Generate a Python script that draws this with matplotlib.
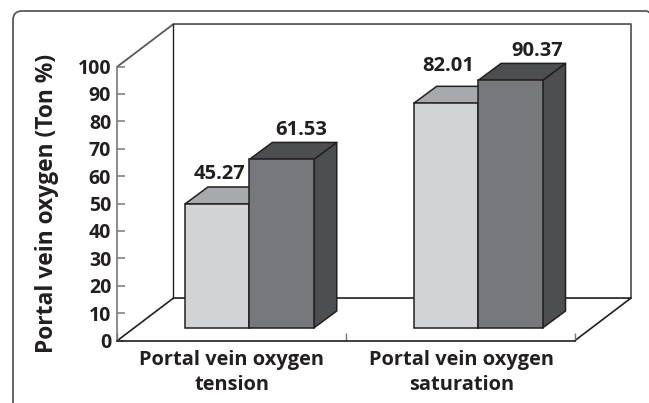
import matplotlib
matplotlib.use("Agg")
from matplotlib import pyplot as plt
from matplotlib.path import Path
from matplotlib.patches import PathPatch

plt.rcParams['font.family'] = ['Open Sans', 'DejaVu Sans']
plt.rcParams['font.weight'] = 'bold'

# Datos
categories = ["Portal vein oxygen\ntension", "Portal vein oxygen\nsaturation"]
light_values = [45.27, 82.01]
dark_values = [61.53, 90.37]
y_ticks = [0, 10, 20, 30, 40, 50, 60, 70, 80, 90, 100]
y_title = "Portal vein oxygen (Ton %)"

W, H = 649, 403
INK = "#231f20"
GREY = "#77787b"

fig = plt.figure(figsize=(W / 100, H / 100), dpi=100)

# Marco redondeado de la página
bg = fig.add_axes([0, 0, 1, 1])
bg.set_xlim(0, W)
bg.set_ylim(H, 0)
bg.axis('off')
frame = Path(
    [(13, 403), (13, 20), (13, 11), (22, 11), (645, 11), (649, 11), (649, 13)],
    [Path.MOVETO, Path.LINETO, Path.CURVE3, Path.CURVE3, Path.LINETO, Path.CURVE3, Path.CURVE3],
)
bg.add_patch(PathPatch(frame, fill=False, edgecolor="#58595b", linewidth=1.3))

# Ejes: el frente del piso va de x=117.5 a 575 px, y de 340.5 a 66.5 px
ax = fig.add_axes([117.5 / W, 1 - 340.5 / H, 457.5 / W, 274 / H])
ax.patch.set_alpha(0)
ax.set_xlim(0, 2)
ax.set_ylim(0, 100)

WALL_DX, WALL_DY = 0.2448, 15.5   # profundidad de la caja
BAR_DX, BAR_DY = 0.1005, 6.2      # profundidad de las barras
BAR_W = 0.2815
BASE = 4.56                       # las barras no arrancan en el borde del piso
GROUP_SHIFT = 0.0765


def linea(xs, ys, color=INK, lw=1.2):
    ax.plot(xs, ys, color=color, linewidth=lw, clip_on=False, zorder=1,
            solid_capstyle='projecting')


# Pared del fondo y piso
linea([0, WALL_DX, 2 + WALL_DX, 2 + WALL_DX],
      [100, 100 + WALL_DY, 100 + WALL_DY, WALL_DY], color="#58595b", lw=1.3)
linea([WALL_DX, WALL_DX], [100 + WALL_DY, WALL_DY], color=INK, lw=1.0)
linea([0, WALL_DX, 2 + WALL_DX, 2], [0, WALL_DY, WALL_DY, 0])


def barra(x, value, front, top, side):
    left, right = x, x + BAR_W
    y0, y1 = BASE, BASE + value
    kw = dict(edgecolor=INK, linewidth=1.1, clip_on=False, zorder=3, joinstyle='round')
    ax.fill([right, right + BAR_DX, right + BAR_DX, right],
            [y0, y0 + BAR_DY, y1 + BAR_DY, y1], facecolor=side, **kw)
    ax.fill([left, left + BAR_DX, right + BAR_DX, right],
            [y1, y1 + BAR_DY, y1 + BAR_DY, y1], facecolor=top, **kw)
    ax.bar(left, value, width=BAR_W, bottom=BASE, align='edge', facecolor=front,
           clip_on=False, zorder=3, **{k: kw[k] for k in ('edgecolor', 'linewidth')})


for i in range(len(categories)):
    center = i + 0.5 + GROUP_SHIFT
    barra(center - BAR_W, light_values[i], "#d1d3d4", "#a7a9ac", "#a7a9ac")
for i in range(len(categories)):
    center = i + 0.5 + GROUP_SHIFT
    barra(center, dark_values[i], GREY, "#4d4e50", "#4d4e50")

# Etiquetas de valores (desplazamiento en puntos desde la esquina de la barra)
light_offsets = [(1.5, 21.5), (1.5, 26.5)]
dark_offsets = [(14, 21.5), (19, 21)]
for i in range(len(categories)):
    center = i + 0.5 + GROUP_SHIFT
    ax.annotate(f"{light_values[i]:.2f}", (center - BAR_W / 2, BASE + light_values[i]),
                xytext=light_offsets[i], textcoords='offset points', ha='center', va='center',
                fontsize=14.5, color=INK, zorder=5, annotation_clip=False)
    ax.annotate(f"{dark_values[i]:.2f}", (center + BAR_W / 2, BASE + dark_values[i]),
                xytext=dark_offsets[i], textcoords='offset points', ha='center', va='center',
                fontsize=14.5, color=INK, zorder=5, annotation_clip=False)

# Ejes y ticks
for s in ('top', 'right'):
    ax.spines[s].set_visible(False)
ax.spines['left'].set_color(GREY)
ax.spines['left'].set_linewidth(1.2)
ax.spines['bottom'].set_color(INK)
ax.spines['bottom'].set_linewidth(1.2)

ax.set_yticks(y_ticks)
ax.tick_params(axis='y', direction='in', length=6, width=1.1, color=GREY, pad=4.5,
               labelsize=14, labelcolor=INK)
ax.set_xticks([0, 1, 2])
ax.set_xticklabels([])
ax.tick_params(axis='x', which='major', direction='in', length=6, width=1.0, color=GREY)
ax.set_xticks([0.5, 1.505], minor=True)
ax.set_xticklabels(categories, minor=True, fontsize=14.4, color=INK, linespacing=1.35)
ax.tick_params(axis='x', which='minor', length=0, pad=6.5)

fig.text(47 / W, 1 - 203 / H, y_title, rotation=90, ha='center', va='center',
         fontsize=16.4, color=INK)

fig.savefig("out.png", dpi=100)
